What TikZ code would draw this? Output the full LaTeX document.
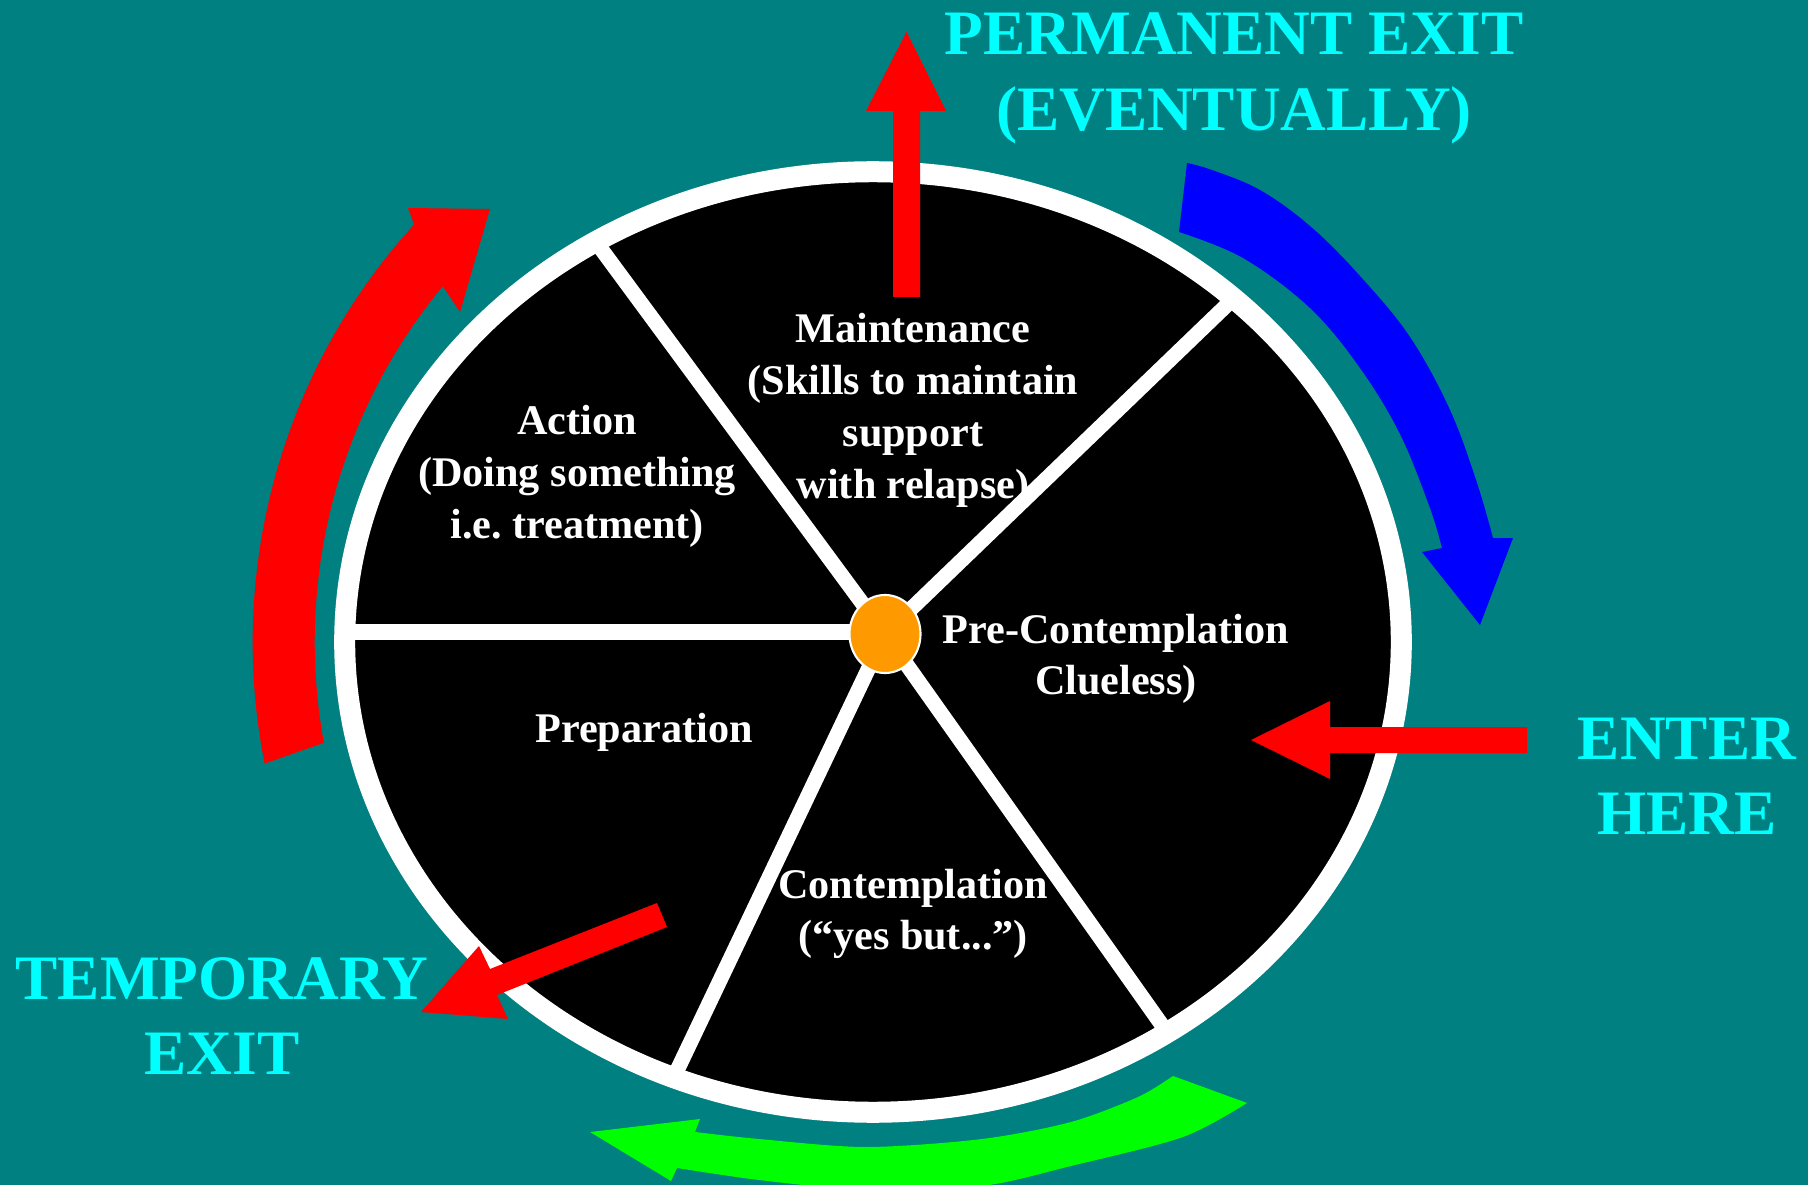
\documentclass[tikz,border=0pt]{standalone}
\usepackage{fontspec}
\setmainfont{Liberation Serif}
\usetikzlibrary{shapes.geometric}

\definecolor{tealbg}{HTML}{008080}
\definecolor{hubcol}{HTML}{FF9900}
\definecolor{labcyan}{HTML}{00FFFF}
\definecolor{arrred}{HTML}{FF0000}
\definecolor{arrblue}{HTML}{0000FF}
\definecolor{arrgreen}{HTML}{00FF00}

% centred block of lines whose baseline is the first line's baseline
\newcommand{\textlines}[1]{\begin{tabular}[t]{@{}c@{}}#1\end{tabular}}

\tikzset{
  stage/.style={text=white, font=\fontsize{12}{14.7}\selectfont\bfseries,
                inner sep=0pt, anchor=base},
  exitlabel/.style={text=labcyan, font=\fontsize{18}{21.6}\selectfont\bfseries,
                inner sep=0pt, anchor=base},
  spoke/.style={draw=white, line width=0.15cm},
  rim/.style={draw=white, line width=0.21cm},
  hubdot/.style={ellipse, fill=hubcol, draw=white, line width=0.6pt,
                 minimum width=0.71cm, minimum height=0.78cm, inner sep=0pt},
}

\begin{document}
\begin{tikzpicture}[x=0.01cm, y=-0.01cm]
  \useasboundingbox (0,0) rectangle (1808,1185);
  \fill[tealbg] (0,0) rectangle (1808,1185);
  \clip (0,0) rectangle (1808,1185);

  % the wheel
  \coordinate (wc) at (873,642);
  \fill[black] (wc) ellipse [x radius=5.28cm, y radius=4.70cm];

  \coordinate (hubc)   at (885,634);
  \coordinate (rimUL)  at (596,242);
  \coordinate (rimUR)  at (1231,301);
  \coordinate (rimL)   at (345,632);
  \coordinate (rimLL)  at (673,1079);
  \coordinate (rimLR)  at (1169,1035);

  \draw[spoke] (hubc) -- (rimUL);
  \draw[spoke] (hubc) -- (rimUR);
  \draw[spoke] (rimL) -- (hubc |- rimL);
  \draw[spoke] (hubc) -- (rimLL);
  \draw[spoke] (hubc) -- (rimLR);

  \draw[rim] (wc) ellipse [x radius=5.28cm, y radius=4.70cm];

  \node[hubdot] (hub) at (hubc) {};

  % stage labels
  \node[stage] (maint) at (913,343)
    {\textlines{Maintenance\\(Skills to maintain\\support\\with relapse)}};
  \node[stage] (action) at (577,435)
    {\textlines{Action\\(Doing something\\i.e.\ treatment)}};
  \node[stage] (precont) at (1116,643)
    {\textlines{Pre-Contemplation\\Clueless)}};
  \node[stage] (prep) at (644,742) {Preparation};
  \node[stage] (contemp) at (913,898)
    {\textlines{Contemplation\\(“yes but...”)}};

  % red cycle arrow on the left: a band between two arcs round the wheel
  \fill[arrred]
    ([shift={(191.3:6.2cm)}]wc) arc[start angle=191.3, end angle=137.7, radius=6.2cm]
    -- (408,208) -- (490,209) -- (460,312)
    -- ([shift={(140.4:5.58cm)}]wc) arc[start angle=140.4, end angle=190.4, radius=5.58cm]
    -- cycle;

  % blue cycle arrow on the right
  \fill[arrblue]
    plot[smooth, tension=0.6] coordinates {(1187,163) (1212,170) (1260,190)
                              (1310,226) (1360,276) (1410,337) (1450,410)
                              (1477,483) (1493,538)}
    -- (1513,538) -- (1480,625) -- (1422,552)
    -- plot[smooth, tension=0.6] coordinates {(1442,548) (1430,508) (1400,434)
                              (1360,368) (1310,308) (1243,258) (1179,232)}
    -- cycle;

  % green cycle arrow at the bottom
  \fill[arrgreen]
    plot[smooth] coordinates {(1173,1076) (1138,1097) (1071,1122) (982,1139)
                              (866,1147) (759,1139) (695,1132)}
    -- (700,1119) -- (590,1132) -- (671,1181)
    -- plot[smooth] coordinates {(677,1168) (759,1180) (866,1190) (982,1186)
                                 (1071,1166) (1183,1137) (1247,1103)}
    -- cycle;

  % permanent exit arrow
  \coordinate (permtail) at (906.5,297);
  \coordinate (permtip)  at (906.5,32);
  \fill[arrred] (permtail) ++(-13.5,0) -- ++(0,-186) -- ++(-27,0) -- (permtip)
    -- (946,111) -- (920,111) -- (920,297) -- cycle;

  % entry arrow
  \coordinate (entertail) at (1527,740);
  \coordinate (entertip)  at (1251,740);
  \fill[arrred] (entertail) ++(0,-13) -- (1330,727) -- (1330,701) -- (entertip)
    -- (1330,779) -- (1330,753) -- (1527,753) -- cycle;

  % temporary exit arrow
  \coordinate (temptip) at (421,1012);
  \fill[arrred] (657,903) -- (490,969) -- (479,946) -- (temptip)
    -- (508,1019) -- (497,995) -- (667,927) -- cycle;

  % exit and entry labels
  \node[exitlabel] (permexit) at (1234,55)
    {\textlines{PERMANENT EXIT\\(EVENTUALLY)}};
  \node[exitlabel] (enter) at (1687,759) {\textlines{ENTER\\HERE}};
  \node[exitlabel] (tempexit) at (222,999) {\textlines{TEMPORARY\\EXIT}};
\end{tikzpicture}
\end{document}
